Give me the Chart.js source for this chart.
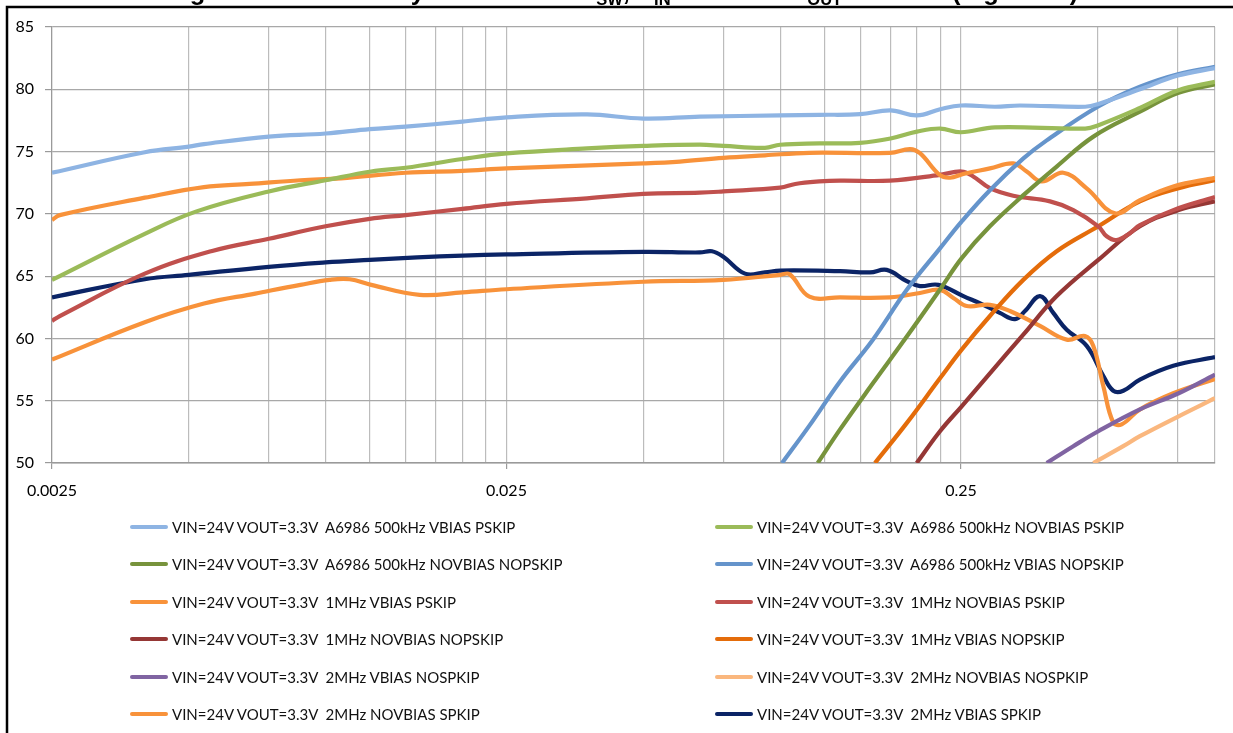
<!DOCTYPE html>
<html>
<head>
<meta charset="utf-8">
<script src="https://cdn.jsdelivr.net/npm/chart.js@4.4.0/dist/chart.umd.min.js"></script>
<style>
html, body { margin: 0; padding: 0; background: #fff; }
#wrap { position: relative; width: 1233px; height: 733px; overflow: hidden; }
#chart { position: absolute; left: 0; top: 0; }
#legend { position: absolute; left: 0; top: 0; width: 1233px; height: 733px; font-family: Lato, sans-serif; font-size: 15px; color: #111; }
.item { position: absolute; display: flex; align-items: center; white-space: pre; }
.swatch { width: 38px; height: 4px; border-radius: 2px; margin-right: 4px; }
</style>
</head>
<body>
<div id="wrap">
  <canvas id="chart" width="1233" height="733"></canvas>
  <div id="legend"></div>
</div>
<script>
// load current (A) tick values and labels
var xTicks = [0.0025, 0.005, 0.0075, 0.01, 0.0125, 0.015, 0.0175, 0.02, 0.0225,
              0.025, 0.05, 0.075, 0.1, 0.125, 0.15, 0.175, 0.2, 0.225,
              0.25, 0.5, 0.75, 0.9055];
var xLabelled = ['0.0025', '0.025', '0.25'];

var seriesNames = [
    'VIN=24V VOUT=3.3V  A6986 500kHz VBIAS PSKIP',
    'VIN=24V VOUT=3.3V  A6986 500kHz NOVBIAS PSKIP',
    'VIN=24V VOUT=3.3V  A6986 500kHz NOVBIAS NOPSKIP',
    'VIN=24V VOUT=3.3V  A6986 500kHz VBIAS NOPSKIP',
    'VIN=24V VOUT=3.3V  1MHz VBIAS PSKIP',
    'VIN=24V VOUT=3.3V  1MHz NOVBIAS PSKIP',
    'VIN=24V VOUT=3.3V  1MHz NOVBIAS NOPSKIP',
    'VIN=24V VOUT=3.3V  1MHz VBIAS NOPSKIP',
    'VIN=24V VOUT=3.3V  2MHz VBIAS NOSPKIP',
    'VIN=24V VOUT=3.3V  2MHz NOVBIAS NOSPKIP',
    'VIN=24V VOUT=3.3V  2MHz NOVBIAS SPKIP',
    'VIN=24V VOUT=3.3V  2MHz VBIAS SPKIP'
];

// efficiency (%) vs load current (A)
var k500VbiasPskip = [[0.0025,73.3],[0.004,74.95],[0.005,75.4],[0.0054,75.6],[0.0075,76.2],[0.01,76.45],[0.0125,76.8],[0.015,77.0],[0.02,77.4],[0.025,77.75],[0.0376,77.98],[0.05,77.65],[0.0666,77.8],[0.1,77.9],[0.122,77.95],[0.15,78.0],[0.175,78.3],[0.2,77.9],[0.225,78.4],[0.25,78.7],[0.297,78.6],[0.337,78.7],[0.469,78.6],[0.5,78.8],[0.619,80.0],[0.75,81.1],[0.9055,81.7]];
var k500NovbiasPskip = [[0.0025,64.7],[0.004,68.4],[0.0052,70.2],[0.0075,71.8],[0.01,72.7],[0.0126,73.4],[0.015,73.7],[0.02,74.4],[0.025,74.85],[0.0376,75.25],[0.05,75.45],[0.0666,75.55],[0.075,75.45],[0.0926,75.3],[0.1,75.55],[0.122,75.65],[0.15,75.7],[0.175,76.05],[0.2,76.6],[0.225,76.85],[0.25,76.55],[0.297,76.95],[0.469,76.85],[0.5,77.1],[0.619,78.5],[0.75,79.9],[0.9055,80.6]];
var k500NovbiasNopskip = [[0.121,50],[0.1355,52.7],[0.16,56.4],[0.19,60.15],[0.225,63.95],[0.251,66.45],[0.2895,69.0],[0.343,71.5],[0.406,73.8],[0.489,76.2],[0.619,78.2],[0.75,79.7],[0.9055,80.4]];
var k500VbiasNopskip = [[0.101,50],[0.116,53.0],[0.1355,56.55],[0.16,59.9],[0.19,63.9],[0.225,67.25],[0.251,69.4],[0.2895,71.9],[0.343,74.45],[0.386,75.9],[0.5,78.6],[0.619,80.2],[0.75,81.2],[0.9055,81.8]];
var m1VbiasPskip = [[0.0025,69.5],[0.0026,69.9],[0.004,71.3],[0.0054,72.15],[0.0068,72.4],[0.0088,72.7],[0.0108,72.85],[0.015,73.3],[0.02,73.45],[0.025,73.65],[0.05,74.05],[0.0602,74.2],[0.075,74.5],[0.0926,74.7],[0.116,74.9],[0.1745,74.9],[0.1931,75.2],[0.2031,74.87],[0.2248,73.1],[0.2365,72.9],[0.253,73.2],[0.2895,73.65],[0.3258,74.05],[0.3488,73.4],[0.3763,72.6],[0.4199,73.3],[0.4727,72.05],[0.5455,70.05],[0.619,71.1],[0.733,72.2],[0.9055,72.9]];
var m1NovbiasPskip = [[0.0025,61.4],[0.0026,61.8],[0.004,65.2],[0.0056,67.0],[0.0075,68.0],[0.01,69.0],[0.0125,69.6],[0.015,69.9],[0.02,70.4],[0.025,70.8],[0.0376,71.25],[0.05,71.6],[0.0666,71.7],[0.075,71.8],[0.1,72.1],[0.108,72.4],[0.122,72.6],[0.1355,72.67],[0.1745,72.67],[0.2248,73.13],[0.2509,73.4],[0.266,73.0],[0.2895,72.06],[0.3258,71.45],[0.3925,71.0],[0.4417,70.3],[0.5013,69.0],[0.523,68.2],[0.5502,67.9],[0.5885,68.45],[0.619,69.1],[0.733,70.3],[0.9055,71.35]];
var m1NovbiasNopskip = [[0.1998,50],[0.2248,52.55],[0.2509,54.55],[0.2895,57.2],[0.3428,60.3],[0.4061,63.4],[0.5013,66.3],[0.619,69.0],[0.7532,70.3],[0.9055,71.0]];
var m1VbiasNopskip = [[0.1617,50],[0.1899,53.2],[0.2248,56.8],[0.2509,59.1],[0.2895,61.8],[0.3428,64.7],[0.4061,67.0],[0.5013,69.0],[0.619,71.0],[0.7532,72.06],[0.9055,72.7]];
var m2VbiasNopskip = [[0.386,50],[0.4417,51.35],[0.5013,52.55],[0.619,54.3],[0.7532,55.6],[0.9055,57.1]];
var m2NovbiasNopskip = [[0.4888,50],[0.5689,51.35],[0.619,52.15],[0.7532,53.75],[0.9055,55.2]];
var m2NovbiasSpkip = [[0.0025,58.3],[0.004,61.3],[0.0054,62.8],[0.007,63.6],[0.0088,64.3],[0.0102,64.7],[0.0113,64.75],[0.0126,64.3],[0.0161,63.5],[0.02,63.7],[0.025,63.95],[0.05,64.55],[0.075,64.7],[0.1,65.1],[0.105,65.15],[0.116,63.35],[0.1355,63.3],[0.1745,63.3],[0.2031,63.65],[0.2248,63.9],[0.2405,63.25],[0.2573,62.6],[0.2895,62.7],[0.3204,62.2],[0.3731,61.0],[0.4272,59.9],[0.4686,60.2],[0.4888,59.4],[0.514,56.2],[0.5408,53.25],[0.5643,53.1],[0.619,54.3],[0.733,55.6],[0.9055,56.75]];
var m2VbiasSpkip = [[0.0025,63.3],[0.004,64.75],[0.005,65.1],[0.0075,65.75],[0.01,66.1],[0.0125,66.3],[0.0159,66.5],[0.02,66.65],[0.025,66.75],[0.05,66.95],[0.0666,66.9],[0.0708,67.0],[0.075,66.55],[0.0837,65.2],[0.0926,65.3],[0.1,65.45],[0.1355,65.4],[0.1577,65.3],[0.1716,65.5],[0.1899,64.6],[0.2031,64.2],[0.2229,64.3],[0.253,63.4],[0.28,62.7],[0.3044,62.05],[0.3287,61.55],[0.3458,62.2],[0.3731,63.4],[0.3991,62.05],[0.4272,60.7],[0.4727,59.4],[0.514,57.0],[0.5408,55.8],[0.5689,55.8],[0.619,56.7],[0.733,57.8],[0.9055,58.5]];

var seriesData = [k500VbiasPskip, k500NovbiasPskip, k500NovbiasNopskip, k500VbiasNopskip,
                  m1VbiasPskip, m1NovbiasPskip, m1NovbiasNopskip, m1VbiasNopskip,
                  m2VbiasNopskip, m2NovbiasNopskip, m2NovbiasSpkip, m2VbiasSpkip];
var seriesColors = ['#8EB4E3', '#9BBB59', '#77933C', '#6594CB',
                    '#F8923A', '#C0504D', '#953735', '#E46C0A',
                    '#8064A2', '#FAB77E', '#F8923A', '#0B2466'];

// title sits above the frame and is mostly cut off, as in the source
var titleParts = [
    ['Light Load Efficiency vs Load and f', false], ['SW', true], [', V', false], ['IN', true],
    ['=24V and V', false], ['OUT', true], [' = 3.30 V (log scale)', false]
];

var framePlugin = {
    id: 'frame',
    afterDraw: function(chart) {
        var c = chart.ctx;
        c.save();
        c.strokeStyle = '#000';
        c.lineWidth = 2.5;
        c.beginPath();
        c.moveTo(7, 733);
        c.lineTo(7, 7);
        c.lineTo(1233, 7);
        c.stroke();

        c.fillStyle = '#000';
        c.textBaseline = 'alphabetic';
        var x = 167;
        titleParts.forEach(function(p) {
            c.font = p[1] ? 'bold 16.5px "Liberation Sans"' : 'bold 25.5px "Liberation Sans"';
            c.fillText(p[0], x, p[1] ? 4.5 : -0.5);
            x += c.measureText(p[0]).width;
        });
        c.restore();
    }
};

var datasets = seriesData.map(function(d, i) {
    return {
        label: seriesNames[i],
        data: d.map(function(p) { return { x: p[0], y: p[1] }; }),
        borderColor: seriesColors[i],
        backgroundColor: seriesColors[i],
        borderWidth: 4.2,
        pointRadius: 0,
        tension: 0.4,
        fill: false
    };
});

var chart = new Chart(document.getElementById('chart').getContext('2d'), {
    type: 'line',
    data: { datasets: datasets },
    options: {
        responsive: false,
        animation: false,
        layout: { padding: { top: 27, right: 18, left: 0, bottom: 0 } },
        plugins: { legend: { display: false }, tooltip: { enabled: false }, title: { display: false } },
        scales: {
            x: {
                type: 'logarithmic',
                min: 0.0025,
                max: 0.9055,
                afterBuildTicks: function(scale) {
                    scale.ticks = xTicks.map(function(v) { return { value: v }; });
                },
                afterFit: function(scale) { scale.height = 270; },
                ticks: {
                    autoSkip: false,
                    maxRotation: 0,
                    padding: 12,
                    color: '#000',
                    font: { family: 'Lato', size: 16 },
                    callback: function(v) {
                        var s = String(v);
                        return xLabelled.indexOf(s) >= 0 ? s : '';
                    }
                },
                grid: {
                    color: '#bcbcbc',
                    lineWidth: 1.2,
                    tickLength: 6,
                    tickColor: function(ctx) {
                        return ctx.tick && xLabelled.indexOf(String(ctx.tick.value)) >= 0 ? '#9a9a9a' : 'rgba(0,0,0,0)';
                    }
                },
                border: { color: '#9a9a9a', width: 1.5 }
            },
            y: {
                min: 50,
                max: 85,
                afterFit: function(scale) { scale.width = 52; },
                ticks: {
                    stepSize: 5,
                    padding: 11,
                    color: '#000',
                    font: { family: 'Lato', size: 16 }
                },
                grid: { color: '#a8a8a8', lineWidth: 1.2, tickLength: 7, tickColor: '#9a9a9a' },
                border: { color: '#9a9a9a', width: 1.2 }
            }
        }
    },
    plugins: [framePlugin]
});

// two-column legend under the plot
var legend = document.getElementById('legend');
chart.data.datasets.forEach(function(ds, i) {
    var item = document.createElement('div');
    item.className = 'item';
    item.style.left = (i % 2 === 0 ? 130 : 715) + 'px';
    item.style.top = (527 + Math.floor(i / 2) * 37.4 - 10) + 'px';
    item.style.height = '20px';
    var sw = document.createElement('span');
    sw.className = 'swatch';
    sw.style.background = ds.borderColor;
    var txt = document.createElement('span');
    txt.textContent = ds.label;
    item.appendChild(sw);
    item.appendChild(txt);
    legend.appendChild(item);
});
</script>
</body>
</html>
